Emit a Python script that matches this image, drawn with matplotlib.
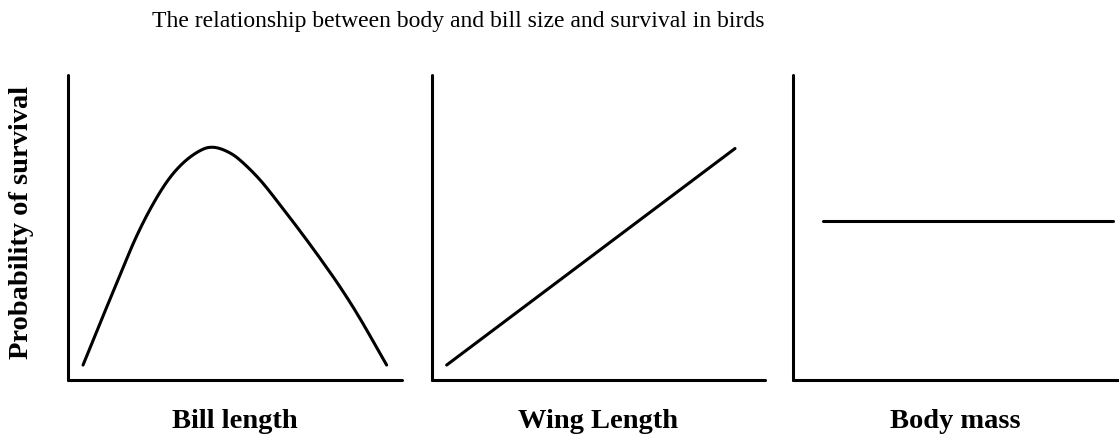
import numpy as np
import matplotlib.pyplot as plt

plt.rcParams['font.family'] = ['Liberation Serif', 'DejaVu Serif']

# Valores (unidades arbitrarias 0-10)
bill_x = [0.45, 1.00, 1.50, 2.00, 2.50, 3.00, 3.49, 3.99, 4.35,
          4.75, 5.15, 5.75, 6.35, 6.95, 7.54, 8.14, 8.74, 9.54]
bill_y = [0.49, 1.97, 3.28, 4.59, 5.68, 6.56, 7.16, 7.54, 7.63,
          7.50, 7.21, 6.56, 5.74, 4.88, 4.00, 3.06, 2.02, 0.49]

wing_x = [0.44, 9.10]
wing_y = [0.49, 7.59]

mass_x = [0.93, 9.86]
mass_y = [5.21, 5.21]

titulos_x = ['Bill length', 'Wing Length', 'Body mass']
titulo = 'The relationship between body and bill size and survival in birds'
etiqueta_y = 'Probability of survival'


def suavizar(xs, ys, n=20):
    # trazo Catmull-Rom que pasa por los puntos leídos (solo para dibujar)
    p = np.column_stack([xs, ys])
    p = np.vstack([p[0], p, p[-1]])
    t = np.linspace(0, 1, n, endpoint=False)[:, None]
    trozos = []
    for i in range(1, len(p) - 2):
        p0, p1, p2, p3 = p[i - 1], p[i], p[i + 1], p[i + 2]
        trozos.append(0.5 * (2 * p1 + (-p0 + p2) * t
                             + (2 * p0 - 5 * p1 + 4 * p2 - p3) * t ** 2
                             + (-p0 + 3 * p1 - 3 * p2 + p3) * t ** 3))
    trozos.append(p[-2][None, :])
    c = np.vstack(trozos)
    return c[:, 0], c[:, 1]


W, H = 1119, 437
fig = plt.figure(figsize=(W / 100, H / 100), dpi=100)

# posiciones de los ejes en pixeles (izquierda, ancho)
paneles = [(68, 334), (432, 333), (793, 325)]
abajo, alto = 380, 305
series = [(bill_x, bill_y), (wing_x, wing_y), (mass_x, mass_y)]

for (izq, ancho), (xs, ys), lab in zip(paneles, series, titulos_x):
    ax = fig.add_axes([izq / W, (H - abajo) / H, ancho / W, alto / H])
    if len(xs) > 2:
        xs, ys = suavizar(xs, ys)
    ax.plot(xs, ys, color='black', linewidth=2.2,
            solid_capstyle='round', solid_joinstyle='round')
    ax.set_xlim(0, 10)
    ax.set_ylim(0, 10)
    for s in ['top', 'right']:
        ax.spines[s].set_visible(False)
    for s in ['left', 'bottom']:
        ax.spines[s].set_linewidth(2.2)
        ax.spines[s].set_capstyle('round')
    ax.set_xticks([])
    ax.set_yticks([])
    # etiqueta del eje x centrada bajo el panel
    fig.text((izq + ancho / 2) / W, 1 - 421 / H, lab, fontsize=20.5,
             fontweight='bold', ha='center', va='center')

fig.text(22 / W, 1 - 222 / H, etiqueta_y, rotation=90, fontsize=20.5,
         fontweight='bold', ha='center', va='center')
fig.text(458 / W, 1 - 21 / H, titulo, fontsize=17, ha='center', va='center')

plt.savefig('out.png', dpi=100)
